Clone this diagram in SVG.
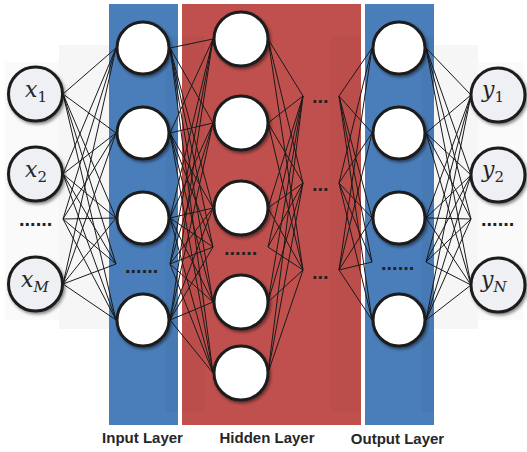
<svg xmlns="http://www.w3.org/2000/svg" width="527" height="452" viewBox="0 0 527 452">
<defs>
<filter id="sh" x="-30%" y="-30%" width="160%" height="160%">
<feDropShadow dx="1.5" dy="2" stdDeviation="1.5" flood-color="#000" flood-opacity="0.45"/>
</filter>
<style>
.io{fill:#eef0f3;stroke:#1c1c1c;stroke-width:3;filter:url(#sh)}
.nd{fill:#ffffff;stroke:#1c1c1c;stroke-width:3;filter:url(#sh)}
.cn{stroke:#1a1a1a;stroke-width:1;fill:none}
.m{font-family:"DejaVu Serif","Liberation Serif",serif;font-style:italic;font-size:22px;fill:#262626}
.s{font-size:15px}
.ss{font-style:normal}
.dots{font-family:"Liberation Sans",Arial,sans-serif;font-weight:bold;font-size:20px;fill:#222}
.lbl{font-family:"Liberation Sans",Arial,sans-serif;font-weight:bold;font-size:15px;fill:#262626;text-anchor:middle}
</style>
</defs>
<rect width="527" height="452" fill="#ffffff"/>
<g id="panels">
<rect x="5" y="62" width="54" height="258" fill="#fafafa"/>
<rect x="59" y="45" width="50" height="284" fill="#f6f6f6"/>
<rect x="434" y="45" width="44" height="284" fill="#f6f6f6"/>
<rect x="478" y="62" width="45" height="258" fill="#fafafa"/>
<rect x="109" y="4" width="69" height="421" fill="#4a7ebb"/>
<rect x="182" y="4" width="179" height="421" fill="#c0504d"/>
<rect x="365" y="4" width="69" height="421" fill="#4a7ebb"/>
<rect x="166" y="36" width="12" height="376" fill="#000" opacity="0.03"/>
<rect x="182" y="36" width="23" height="376" fill="#000" opacity="0.025"/>
<rect x="330" y="36" width="31" height="376" fill="#000" opacity="0.025"/>
<rect x="422" y="36" width="12" height="376" fill="#000" opacity="0.03"/>
</g>
<g id="connectors">
<path class="cn" d="M63 94L116 48M63 94L116 133M63 94L116 218M63 94L116 264M63 94L116 320"/>
<path class="cn" d="M63 174L116 48M63 174L116 133M63 174L116 218M63 174L116 264M63 174L116 320"/>
<path class="cn" d="M63 219L116 48M63 219L116 133M63 219L116 218M63 219L116 264M63 219L116 320"/>
<path class="cn" d="M63 284L116 48M63 284L116 133M63 284L116 218M63 284L116 264M63 284L116 320"/>
<path class="cn" d="M170 48L213 39M170 48L213 123M170 48L213 208M170 48L213 247M170 48L213 302M170 48L213 373"/>
<path class="cn" d="M170 133L213 39M170 133L213 123M170 133L213 208M170 133L213 247M170 133L213 302M170 133L213 373"/>
<path class="cn" d="M170 218L213 39M170 218L213 123M170 218L213 208M170 218L213 247M170 218L213 302M170 218L213 373"/>
<path class="cn" d="M170 264L213 39M170 264L213 123M170 264L213 208M170 264L213 247M170 264L213 302M170 264L213 373"/>
<path class="cn" d="M170 320L213 39M170 320L213 123M170 320L213 208M170 320L213 247M170 320L213 302M170 320L213 373"/>
<path class="cn" d="M268 39L303 96M268 39L303 183M268 39L303 270"/>
<path class="cn" d="M268 123L303 96M268 123L303 183M268 123L303 270"/>
<path class="cn" d="M268 208L303 96M268 208L303 183M268 208L303 270"/>
<path class="cn" d="M268 247L303 96M268 247L303 183M268 247L303 270"/>
<path class="cn" d="M268 302L303 96M268 302L303 183M268 302L303 270"/>
<path class="cn" d="M268 373L303 96M268 373L303 183M268 373L303 270"/>
<path class="cn" d="M339 96L372 48M339 96L372 133M339 96L372 218M339 96L372 262M339 96L372 320"/>
<path class="cn" d="M339 183L372 48M339 183L372 133M339 183L372 218M339 183L372 262M339 183L372 320"/>
<path class="cn" d="M339 270L372 48M339 270L372 133M339 270L372 218M339 270L372 262M339 270L372 320"/>
<path class="cn" d="M426 48L471 95M426 48L471 175M426 48L471 219M426 48L471 285"/>
<path class="cn" d="M426 133L471 95M426 133L471 175M426 133L471 219M426 133L471 285"/>
<path class="cn" d="M426 218L471 95M426 218L471 175M426 218L471 219M426 218L471 285"/>
<path class="cn" d="M426 262L471 95M426 262L471 175M426 262L471 219M426 262L471 285"/>
<path class="cn" d="M426 320L471 95M426 320L471 175M426 320L471 219M426 320L471 285"/>
</g>
<g id="x1"><circle class="io" cx="35.5" cy="94" r="27"/><text class="m" x="25" y="97">x<tspan class="s ss" dy="5">1</tspan></text></g>
<g id="x2"><circle class="io" cx="35.5" cy="174" r="27"/><text class="m" x="25" y="177">x<tspan class="s ss" dy="5">2</tspan></text></g>
<g id="xdots"><text class="dots" x="19" y="226">......</text></g>
<g id="xM"><circle class="io" cx="35.5" cy="284" r="27"/><text class="m" x="21" y="287">x<tspan class="s" dy="5">M</tspan></text></g>
<g id="in1"><circle class="nd" cx="143" cy="48" r="26"/></g>
<g id="in2"><circle class="nd" cx="143" cy="133" r="26"/></g>
<g id="in3"><circle class="nd" cx="143" cy="218" r="26"/></g>
<g id="indots"><text class="dots" x="125" y="273">......</text></g>
<g id="in4"><circle class="nd" cx="143" cy="320" r="26"/></g>
<g id="h1"><circle class="nd" cx="241" cy="39" r="27"/></g>
<g id="h2"><circle class="nd" cx="241" cy="123" r="27"/></g>
<g id="h3"><circle class="nd" cx="241" cy="208" r="27"/></g>
<g id="hdots"><text class="dots" x="224" y="255">......</text></g>
<g id="h4"><circle class="nd" cx="241" cy="302" r="27"/></g>
<g id="h5"><circle class="nd" cx="241" cy="373" r="27"/></g>
<g id="mid"><text class="dots" x="312" y="103">...</text><text class="dots" x="312" y="191">...</text><text class="dots" x="312" y="279">...</text></g>
<g id="o1"><circle class="nd" cx="399" cy="48" r="26"/></g>
<g id="o2"><circle class="nd" cx="399" cy="133" r="26"/></g>
<g id="o3"><circle class="nd" cx="399" cy="218" r="26"/></g>
<g id="odots"><text class="dots" x="381" y="270">......</text></g>
<g id="o4"><circle class="nd" cx="399" cy="320" r="26"/></g>
<g id="y1"><circle class="io" cx="498" cy="95" r="27"/><text class="m" x="482" y="97">y<tspan class="s ss" dy="5">1</tspan></text></g>
<g id="y2"><circle class="io" cx="498" cy="175" r="27"/><text class="m" x="482" y="177">y<tspan class="s ss" dy="5">2</tspan></text></g>
<g id="ydots"><text class="dots" x="481" y="226">......</text></g>
<g id="yN"><circle class="io" cx="498" cy="285" r="27"/><text class="m" x="481" y="287">y<tspan class="s" dy="5">N</tspan></text></g>
<g id="labels">
<text class="lbl" x="142.5" y="443">Input Layer</text>
<text class="lbl" x="267" y="443">Hidden Layer</text>
<text class="lbl" x="397.5" y="444">Output Layer</text>
</g>
</svg>
